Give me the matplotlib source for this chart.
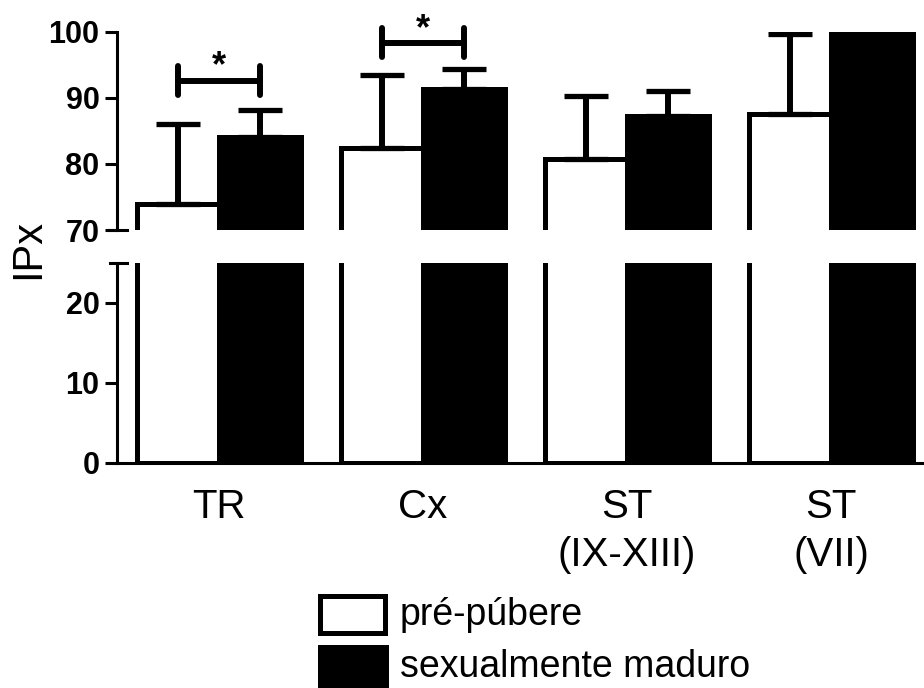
import numpy as np
import matplotlib.pyplot as plt
from matplotlib.patches import Rectangle

categories = ['TR', 'Cx', 'ST\n(IX-XIII)', 'ST\n(VII)']
pre_mean = [73.9, 82.4, 80.8, 87.5]
pre_sd = [12.2, 11.1, 9.4, 12.1]
mat_mean = [84.1, 91.3, 87.2, 100.0]
mat_sd = [4.0, 3.0, 3.9, 0.0]
sig_groups = [0, 1]
sig_y = [92.6, 98.3]
legend_labels = ['pré-púbere', 'sexualmente maduro']
upper_ticks = [70, 80, 90, 100]
lower_ticks = [0, 10, 20]

plt.rcParams['font.family'] = ['Liberation Sans', 'DejaVu Sans']

W, H = 924, 688
fig = plt.figure(figsize=(W / 100, H / 100), dpi=100)

def fx(px):
    return px / W

def fy(px):
    return 1 - px / H

ax_up = fig.add_axes([fx(117), fy(230), fx(924) - fx(117), fy(31.7) - fy(230)])
ax_lo = fig.add_axes([fx(117), fy(462.5), fx(924) - fx(117), fy(262.5) - fy(462.5)])

x = np.arange(len(categories))
w = 0.402
lw = 3.6

for ax in (ax_up, ax_lo):
    ax.bar(x - w, pre_mean, w, align='edge', color='white', edgecolor='black', linewidth=lw, zorder=2)
    ax.bar(x, mat_mean, w, align='edge', color='black', edgecolor='black', linewidth=lw, zorder=2)
    ax.set_xlim(-0.5, 3.456)
    for s in ('top', 'right'):
        ax.spines[s].set_visible(False)
    ax.spines['left'].set_linewidth(2.2)
    ax.spines['bottom'].set_linewidth(2.2)
    ax.tick_params(axis='y', length=8.6, width=2.2, pad=4, labelsize=22)

ax_up.set_ylim(70, 100)
ax_up.set_yticks(upper_ticks)
ax_up.spines['bottom'].set_visible(False)
ax_up.set_xticks([])
ax_lo.set_ylim(0, 25)
ax_lo.set_yticks(lower_ticks)
ax_lo.set_xticks(x)
ax_lo.set_xticklabels(categories, fontsize=29, linespacing=1.35)
ax_lo.tick_params(axis='x', length=0, pad=18)
for ax in (ax_up, ax_lo):
    for lab in ax.get_yticklabels():
        lab.set_fontweight('bold')

# error bars (upper only)
ax_up.errorbar(x - w / 2, pre_mean, yerr=[np.zeros(len(x)), pre_sd], fmt='none',
               ecolor='black', elinewidth=4.3, capsize=16, capthick=3.8, zorder=3)
ax_up.errorbar(x + w / 2, mat_mean, yerr=[np.zeros(len(x)), mat_sd], fmt='none',
               ecolor='black', elinewidth=4.3, capsize=16, capthick=3.8, zorder=1)

# significance brackets
for g, yb in zip(sig_groups, sig_y):
    x0, x1 = g - w / 2, g + w / 2
    ax_up.plot([x0, x1], [yb, yb], color='black', lw=4.3, clip_on=False)
    ax_up.plot([x0, x0], [yb - 2.2, yb + 2.2], color='black', lw=4.3,
               solid_capstyle='round', clip_on=False)
    ax_up.plot([x1, x1], [yb - 2.2, yb + 2.2], color='black', lw=4.3,
               solid_capstyle='round', clip_on=False)
    ax_up.annotate('*', (g, yb), xytext=(0, 3), textcoords='offset points',
                   ha='center', va='baseline', fontsize=26, fontweight='bold')

# axis break marks
ax_up.plot([-0.01, 0.012], [0, 0], transform=ax_up.transAxes, color='black', lw=2.2, clip_on=False)
ax_lo.plot([-0.009, 0.012], [1, 1], transform=ax_lo.transAxes, color='black', lw=2.2, clip_on=False)

fig.text(fx(28), fy(249), 'IPx', rotation=90, ha='center', va='center', fontsize=30)

# legend
fig.patches.append(Rectangle((fx(319.5), fy(632.5)), fx(384.5) - fx(319.5), fy(595.5) - fy(632.5),
                             transform=fig.transFigure, facecolor='white', edgecolor='black', lw=lw))
fig.patches.append(Rectangle((fx(318), fy(690)), fx(389) - fx(318), fy(645) - fy(690),
                             transform=fig.transFigure, facecolor='black', edgecolor='none'))
fig.text(fx(400), fy(625), legend_labels[0], fontsize=27, va='baseline', ha='left')
fig.text(fx(400), fy(677), legend_labels[1], fontsize=27, va='baseline', ha='left')

fig.savefig('out.png', dpi=100)
